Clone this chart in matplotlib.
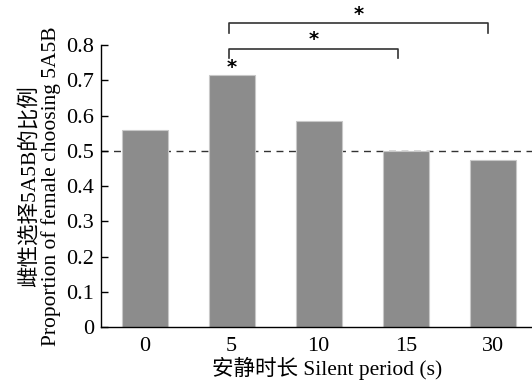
import matplotlib
matplotlib.use('Agg')
import matplotlib.pyplot as plt

# Data
categories = ['0', '5', '10', '15', '30']
proportions = [0.559, 0.715, 0.585, 0.499, 0.474]
chance_level = 0.5

plt.rcParams['font.family'] = ['Liberation Serif', 'Noto Sans CJK SC']
plt.rcParams['font.size'] = 15

fig = plt.figure(figsize=(5.32, 3.87), dpi=100)
ax = fig.add_axes([0.19, 0.155, 0.81, 0.728])

x = list(range(len(categories)))
ax.bar(x, proportions, width=0.53, color='#8c8c8c', edgecolor='#c8c8c8', linewidth=0.8, zorder=2)
ax.axhline(chance_level, color='#333333', linestyle=(0, (5, 4)), linewidth=1.0, zorder=1)

ax.set_xlim(-0.5, 4.45)
ax.set_ylim(0, 0.8)
ax.set_xticks(x)
ax.set_xticklabels(categories)
ax.set_yticks([0, 0.1, 0.2, 0.3, 0.4, 0.5, 0.6, 0.7, 0.8])
ax.set_yticklabels(['0', '0.1', '0.2', '0.3', '0.4', '0.5', '0.6', '0.7', '0.8'])
ax.tick_params(direction='in', length=5, width=1, labelsize=16)
ax.tick_params(axis='x', pad=7)
ax.tick_params(axis='y', pad=5)

for side in ['top', 'right']:
    ax.spines[side].set_visible(False)
ax.spines['left'].set_linewidth(1)
ax.spines['bottom'].set_linewidth(1)

ax.set_xlabel('安静时长 Silent period (s)', fontsize=15.5, labelpad=1)
ax.xaxis.set_label_coords(0.525, -0.105)
ax.set_ylabel('雌性选择5A5B的比例\nProportion of female choosing 5A5B', fontsize=15.5,
              labelpad=4, linespacing=1.05)

# Significance brackets
def bracket(i, j, y_top, y_leg, star_y):
    ax.plot([i, i, j, j], [y_leg, y_top, y_top, y_leg], color='#333333', lw=1.2, clip_on=False)
    ax.text((i + j) / 2, star_y, '*', ha='center', va='center', fontsize=14,
            fontweight='bold', clip_on=False, family='DejaVu Sans')

bracket(0.97, 3.94, 0.862, 0.834, 0.888)
bracket(0.97, 2.91, 0.789, 0.763, 0.815)
ax.text(1, 0.738, '*', ha='center', va='center', fontsize=14, fontweight='bold',
        clip_on=False, family='DejaVu Sans')

fig.savefig('out.png', dpi=100)
